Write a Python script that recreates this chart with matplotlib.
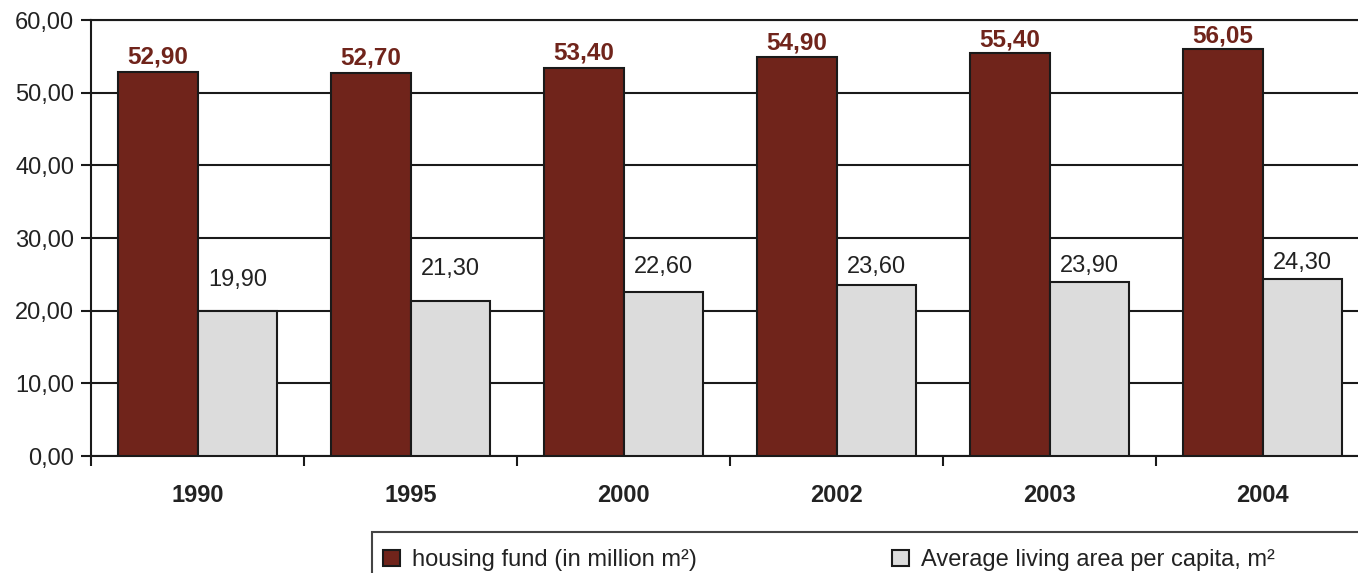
"""Bar chart: housing fund vs. average living area per capita."""

import matplotlib
matplotlib.use("Agg")
import matplotlib.pyplot as plt  # noqa: E402
from matplotlib.patches import Rectangle  # noqa: E402
import numpy as np  # noqa: E402

YEARS = ["1990", "1995", "2000", "2002", "2003", "2004"]
HOUSING_FUND = [52.90, 52.70, 53.40, 54.90, 55.40, 56.05]
LIVING_AREA = [19.90, 21.30, 22.60, 23.60, 23.90, 24.30]
SERIES_NAMES = ["housing fund (in million m²)", "Average living area per capita, m²"]

# gap (pt) between bar top and the label baseline
RED_GAP = [5.8, 5.8, 5.8, 5.8, 5.0, 4.3]
GREY_GAP = [18.0, 18.7, 13.7, 8.6, 7.2, 7.2]

RED = "#70241b"
GREY = "#dcdcdc"
EDGE = "#1a1a1a"
TEXT = "#222222"

plt.rcParams["font.family"] = ["Liberation Sans", "DejaVu Sans"]


def fmt(v):
    return f"{v:.2f}".replace(".", ",")


fig = plt.figure(figsize=(13.58, 5.73), dpi=100)
W, H = 1358, 573
ax = fig.add_axes([91 / W, 117 / H, 1278 / W, 436 / H])

x = np.arange(len(YEARS))
bw = 0.375
b1 = ax.bar(x - bw / 2, HOUSING_FUND, width=bw, color=RED, edgecolor=EDGE,
            linewidth=1.5, zorder=3)
b2 = ax.bar(x + bw / 2, LIVING_AREA, width=bw, color=GREY, edgecolor=EDGE,
            linewidth=1.5, zorder=3)

for xi, v, g in zip(x, HOUSING_FUND, RED_GAP):
    ax.annotate(fmt(v), (xi - bw / 2, v), xytext=(0, g), textcoords="offset points",
                ha="center", va="baseline", fontsize=17.5, fontweight="bold", color=RED)
for xi, v, g in zip(x, LIVING_AREA, GREY_GAP):
    ax.annotate(fmt(v), (xi + bw / 2, v), xytext=(0, g), textcoords="offset points",
                ha="center", va="baseline", fontsize=17, color=TEXT)

ax.set_xlim(-0.5, len(YEARS) - 0.5)
ax.set_ylim(0, 60)
ax.set_yticks(range(0, 61, 10))
ax.set_yticklabels([fmt(t) for t in range(0, 61, 10)])
ax.yaxis.grid(True, color=EDGE, linewidth=1.5)
ax.set_axisbelow(True)

ax.set_xticks(x)
ax.set_xticklabels(YEARS, fontweight="bold", fontsize=17)
ax.set_xticks(np.arange(-0.5, len(YEARS)), minor=True)
ax.tick_params(axis="x", which="major", length=0, pad=20, colors=TEXT)
ax.tick_params(axis="x", which="minor", length=7, width=1.5, color=EDGE)
ax.tick_params(axis="y", length=7, width=1.5, color=EDGE, labelsize=17,
               labelcolor=TEXT, pad=5)

ax.spines["right"].set_visible(False)
for s in ("top", "left", "bottom"):
    ax.spines[s].set_color(EDGE)
    ax.spines[s].set_linewidth(1.5)

# Legend box running off the bottom-right corner
fig.patches.append(Rectangle((372 / W, -0.05), 1.0, (573 - 532) / H + 0.05,
                             transform=fig.transFigure, facecolor="white",
                             edgecolor="#444444", linewidth=1.5))
fig.legend([b1, b2], SERIES_NAMES, loc="upper left",
           bbox_to_anchor=(362 / W, 1 - 528 / H), ncol=2, frameon=False,
           fontsize=17, handlelength=0.7, handleheight=0.7, handletextpad=0.5,
           columnspacing=8.3, labelcolor=TEXT)

fig.savefig("out.png", facecolor="white")
plt.close(fig)
